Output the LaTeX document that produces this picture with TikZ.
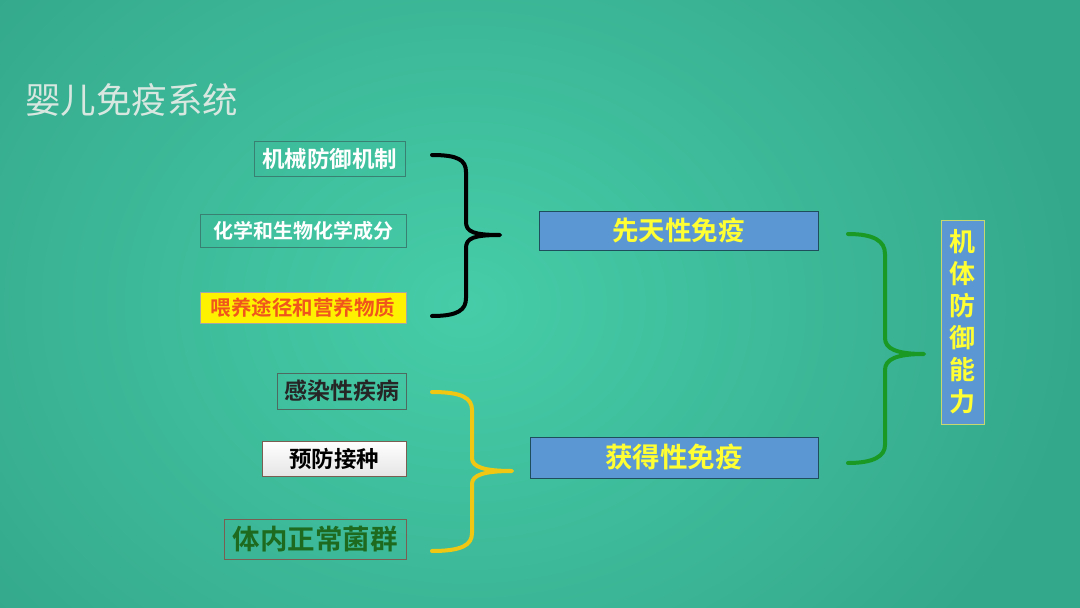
\documentclass[tikz,border=0pt]{standalone}
\usepackage{fontspec}
\newfontfamily\cjk{Noto Sans CJK SC}
\newfontfamily\cjkb{Noto Sans CJK SC Bold}
\definecolor{bgin}{HTML}{46CDA8}
\definecolor{bgout}{HTML}{34A88B}
\definecolor{titlec}{HTML}{D9E7E1}
\definecolor{tealborder}{HTML}{3A8072}
\definecolor{blueboxc}{HTML}{5B98D3}
\definecolor{blueborder}{HTML}{1E4D5C}
\definecolor{yellowtext}{HTML}{FFFF33}
\definecolor{orangered}{HTML}{F0561C}
\definecolor{darkgreentext}{HTML}{1E6A1E}
\definecolor{bracey}{HTML}{F0C814}
\definecolor{braceg}{HTML}{1A9A24}
\definecolor{brownborder}{HTML}{7A5E52}
\definecolor{grayborder}{HTML}{4E6A60}
\definecolor{vborder}{HTML}{C8D870}
\tikzset{
  itembox/.style={draw=tealborder, line width=0.9pt, inner sep=0pt, font=\cjkb, text=white},
  bluebox/.style={draw=blueborder, fill=blueboxc, line width=1pt, inner sep=0pt, text=yellowtext},
  bracestyle/.style={line width=4pt, line cap=round, line join=round}
}
\begin{document}
\begin{tikzpicture}[x=1pt,y=-1pt]
\useasboundingbox (0,0) rectangle (1080,608);
\shade[inner color=bgin, outer color=bgout] (-150,-200) rectangle (1080,808);
\node[anchor=west, text=titlec, font=\cjk\fontsize{35.5}{35.5}\selectfont, inner sep=0pt] (title) at (25,100) {婴儿免疫系统};

\node[itembox, minimum width=151pt, minimum height=35pt, font=\cjkb\fontsize{22.5}{22.5}\selectfont] (a1) at (329.5,158.5) {机械防御机制};
\node[itembox, minimum width=206pt, minimum height=33pt, font=\cjkb\fontsize{20}{20}\selectfont] (a2) at (303,230.5) {化学和生物化学成分};
\node[itembox, draw=gray!70, fill=yellow, text=orangered, minimum width=206pt, minimum height=31pt, font=\cjkb\fontsize{20.5}{20.5}\selectfont] (a3) at (303,307.5) {喂养途径和营养物质};

\node[itembox, draw=grayborder, text=black!85, minimum width=129pt, minimum height=36pt, font=\cjkb\fontsize{23}{23}\selectfont] (b1) at (341.5,391) {感染性疾病};
\node[itembox, draw=brownborder, top color=white, bottom color=black!10, text=black, minimum width=144pt, minimum height=35pt, font=\cjkb\fontsize{22.5}{22.5}\selectfont] (b2) at (334,458.5) {预防接种};
\node[itembox, draw=brownborder, text=darkgreentext, minimum width=182pt, minimum height=40pt, font=\cjkb\fontsize{27.5}{27.5}\selectfont] (b3) at (315,539) {体内正常菌群};

\node[bluebox, minimum width=279pt, minimum height=39pt, font=\cjkb\fontsize{26.5}{26.5}\selectfont] (innate) at (678.5,230.5) {先天性免疫};
\node[bluebox, minimum width=288pt, minimum height=41pt, font=\cjkb\fontsize{27.5}{27.5}\selectfont] (acquired) at (674,457.5) {获得性免疫};

\node[draw=vborder, fill=blueboxc, line width=1pt, inner sep=0pt, minimum width=43pt, minimum height=204pt, align=center, text=yellowtext, font=\cjkb\fontsize{26}{32}\selectfont] (defense) at (962.5,322) {机\\体\\防\\御\\能\\力};

% black brace
\coordinate (k1) at (432,155);
\coordinate (k2) at (500,235);
\coordinate (k3) at (432,316);
\draw[bracestyle, black] (k1) .. controls (458,155) and (466,160) .. (466,172) -- (466,222)
  .. controls (466,232) and (474,235) .. (k2)
  .. controls (474,235) and (466,238) .. (466,248) -- (466,298)
  .. controls (466,310) and (458,316) .. (k3);

% yellow brace
\coordinate (y1) at (432,392);
\coordinate (y2) at (512,471);
\coordinate (y3) at (432,551);
\draw[bracestyle, bracey] (y1) .. controls (462,392) and (472,398) .. (472,410) -- (472,458)
  .. controls (472,467) and (484,471) .. (y2)
  .. controls (484,471) and (472,475) .. (472,484) -- (472,533)
  .. controls (472,545) and (462,551) .. (y3);

% green brace
\coordinate (g1) at (848,234);
\coordinate (g2) at (924,354);
\coordinate (g3) at (848,463);
\draw[bracestyle, braceg] (g1) .. controls (874,234) and (885,241) .. (885,254) -- (885,338)
  .. controls (885,349) and (897,354) .. (g2)
  .. controls (897,354) and (885,359) .. (885,370) -- (885,445)
  .. controls (885,456) and (874,463) .. (g3);
\end{tikzpicture}
\end{document}
